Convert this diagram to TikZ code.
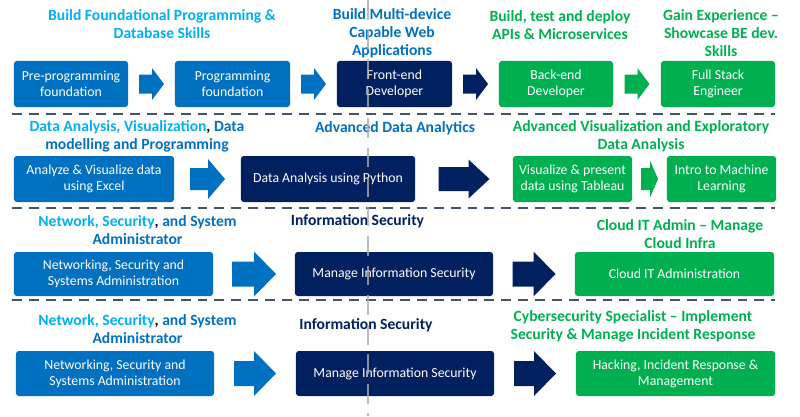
\documentclass[tikz,border=0pt]{standalone}
\usepackage{fontspec}
\setmainfont{Carlito}
\usetikzlibrary{calc}

\definecolor{skyblue}{HTML}{00B0F0}
\definecolor{midblue}{HTML}{0070C0}
\definecolor{darknavy}{HTML}{002060}
\definecolor{lgreen}{HTML}{00B050}
\definecolor{slate}{HTML}{44546A}

% block arrow between two boxes: colour, from, to, length, body, head width, head length
\newcommand{\blockarr}[7]{%
  \fill[#1] ($(#2.east)!0.5!(#3.west)$) ++({-#4/2},{-#5/2}) -- ++({#4-#7},0)
    -- ++(0,{-(#6-#5)/2}) -- ++(#7,{#6/2}) -- ++(-#7,{#6/2})
    -- ++(0,{-(#6-#5)/2}) -- ++({-(#4-#7)},0) -- cycle;}

\tikzset{
  box/.style={rounded corners=2pt, text=white, align=center, inner sep=0pt,
    font=\fontsize{9.8}{11.4}\selectfont},
  hdr/.style={align=center, inner sep=0pt, font=\fontsize{11.1}{12.9}\selectfont\bfseries},
  sep/.style={slate, line width=2pt, dash pattern=on 7pt off 5pt},
  vline/.style={gray!65, opacity=0.8, line width=2pt, dash pattern=on 14pt off 7pt},
}

\begin{document}
\begin{tikzpicture}[x=0.025cm, y=-0.025cm]
	\useasboundingbox (0,0) rectangle (800,416);

	% row 1
	\node[hdr, skyblue] (h11) at (162,24) {Build Foundational Programming \&\\Database Skills};
	\node[hdr, midblue] (h12) at (392,33) {Build Multi-device\\Capable Web\\Applications};
	\node[hdr, lgreen] (h13) at (560,25) {Build, test and deploy\\APIs \& Microservices};
	\node[hdr, lgreen] (h14) at (721,33) {Gain Experience --\\Showcase BE dev.\\Skills};
	\node[box, fill=midblue, minimum width=2.85cm, minimum height=1.15cm] (pre) at (71,84) {Pre-programming\\foundation};
	\node[box, fill=midblue, minimum width=2.875cm, minimum height=1.15cm] (prog) at (232.5,84) {Programming\\foundation};
	\node[box, fill=darknavy, minimum width=2.875cm, minimum height=1.15cm] (fe) at (394.5,84) {Front-end\\Developer};
	\node[box, fill=lgreen, minimum width=2.85cm, minimum height=1.15cm] (be) at (556,84) {Back-end\\Developer};
	\node[box, fill=lgreen, minimum width=2.85cm, minimum height=1.15cm] (fs) at (718,84) {Full Stack\\Engineer};
	\blockarr{midblue}{pre}{prog}{25}{19}{32}{12}
	\blockarr{midblue}{prog}{fe}{25}{19}{32}{12}
	\blockarr{darknavy}{fe}{be}{25}{19}{32}{12}
	\blockarr{lgreen}{be}{fs}{25}{19}{32}{12}

	% row 2
	\node[hdr, midblue] (h21) at (137,136.5) {\textcolor{skyblue}{Data Analysis, Visualization}\textcolor{black}{,} Data\\modelling and Programming};
	\node[hdr, midblue] (h22) at (395,128) {Advanced Data Analytics};
	\node[hdr, lgreen] (h23) at (641,136) {Advanced Visualization and Exploratory\\Data Analysis};
	\node[box, fill=midblue, minimum width=4cm, minimum height=1.15cm] (excel) at (94,179) {Analyze \& Visualize data\\using Excel};
	\node[box, fill=darknavy, minimum width=4.35cm, minimum height=1.15cm] (python) at (328,179) {Data Analysis using Python};
	\node[box, fill=lgreen, minimum width=2.975cm, minimum height=1.15cm] (tableau) at (572.5,179) {Visualize \& present\\data using Tableau};
	\node[box, fill=lgreen, minimum width=2.725cm, minimum height=1.15cm] (ml) at (721.5,179) {Intro to Machine\\Learning};
	\blockarr{midblue}{excel}{python}{35}{22}{40}{17}
	\blockarr{darknavy}{python}{tableau}{51}{24}{39}{21}
	\blockarr{lgreen}{tableau}{ml}{17}{22}{37}{8}

	% row 3
	\node[hdr, midblue] (h31) at (137.5,230) {\textcolor{skyblue}{Network, Security}\textcolor{black}{,} and System\\Administrator};
	\node[hdr, darknavy] (h32) at (357.5,221) {Information Security};
	\node[hdr, lgreen] (h33) at (680,234) {Cloud IT Admin -- Manage\\Cloud Infra};
	\node[box, fill=midblue, minimum width=4.975cm, minimum height=1.1cm] (net) at (113.5,274) {Networking, Security and\\Systems Administration};
	\node[box, fill=darknavy, minimum width=4.95cm, minimum height=1.1cm] (infosec) at (394,274) {Manage Information Security};
	\node[box, fill=lgreen, minimum width=4.975cm, minimum height=1.1cm] (cloud) at (674.5,274) {Cloud IT Administration};
	\blockarr{midblue}{net}{infosec}{44}{25}{45}{22}
	\blockarr{darknavy}{infosec}{cloud}{43}{25}{45}{22}

	% row 4
	\node[hdr, midblue] (h41) at (137.5,329) {\textcolor{skyblue}{Network, Security}\textcolor{black}{,} and System\\Administrator};
	\node[hdr, darknavy] (h42) at (366,325) {Information Security};
	\node[box, fill=midblue, minimum width=4.95cm, minimum height=1.125cm] (net2) at (115,373.5) {Networking, Security and\\Systems Administration};
	\node[box, fill=darknavy, minimum width=4.95cm, minimum height=1.125cm] (infosec2) at (395,373.5) {Manage Information Security};
	\node[box, fill=lgreen, minimum width=4.975cm, minimum height=1.125cm] (cyber) at (675.5,373.5) {Hacking, Incident Response \&\\Management};
	\node[hdr, lgreen] (h43) at (633,326) {Cybersecurity Specialist -- Implement\\Security \& Manage Incident Response};
	\blockarr{midblue}{net2}{infosec2}{42}{25}{45}{22}
	\blockarr{darknavy}{infosec2}{cyber}{42}{25}{45}{22}

	% separators
	\draw[sep] (12,114) -- (775,114);
	\draw[sep] (12,208) -- (775,208);
	\draw[sep] (12,300) -- (775,300);
	\draw[vline] (368,0) -- (368,416);
\end{tikzpicture}
\end{document}
